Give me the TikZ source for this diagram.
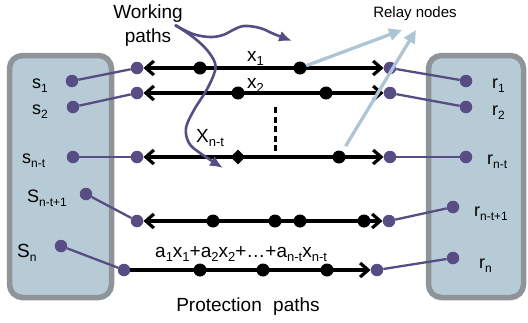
\documentclass[tikz,border=0pt]{standalone}
\usepackage{fontspec}
\setmainfont{Liberation Sans}
\usetikzlibrary{arrows.meta,shapes.geometric}

\definecolor{boxfill}{HTML}{B7CBD7}
\definecolor{boxedge}{HTML}{8E9498}
\definecolor{pathpurple}{HTML}{574D84}
\definecolor{relayblue}{HTML}{ACC6D5}

% lowered small text for indices
\newcommand{\lsub}[2][12]{\raisebox{-4pt}{\fontsize{#1}{#1}\selectfont #2}}

\tikzset{
  panel/.style={draw=boxedge, fill=boxfill, line width=5.5pt, rounded corners=13pt},
  pdot/.style={circle, fill=pathpurple, inner sep=0pt, minimum size=12.5pt},
  bdot/.style={circle, fill=black, inner sep=0pt, minimum size=13pt},
  bdiamond/.style={diamond, fill=black, inner sep=0pt, minimum size=15pt},
  link/.style={draw=pathpurple, line width=2.3pt},
  barb/.tip={Straight Barb[length=8pt,width=14pt]},
  wpath/.style={draw=black, line width=3.2pt, barb-barb},
  ppath/.style={draw=black, line width=3.2pt, -barb},
  relay/.style={draw=relayblue, line width=3.3pt, -{Triangle[length=13pt,width=12pt]}},
  curve/.style={draw=pathpurple, line width=2.6pt, -{Latex[length=13pt,width=11pt]}},
  lbl/.style={inner sep=0pt, font=\fontsize{18}{20}\selectfont},
  big/.style={inner sep=0pt, font=\fontsize{19}{22}\selectfont},
  small/.style={inner sep=0pt, font=\fontsize{15}{17}\selectfont},
}

\begin{document}
\begin{tikzpicture}[x=1pt,y=-1pt]
\useasboundingbox (0,0) rectangle (528,322);

% source and sink panels
\draw[panel] (9.5,55.5) rectangle (111.5,297.5);
\draw[panel] (428.5,55.5) rectangle (523.5,297.5);

% source terminals
\node[pdot] (s1) at (72,81) {};
\node[pdot] (s2) at (73,107) {};
\node[pdot] (s3) at (73,157) {};
\node[pdot] (s4) at (86,194) {};
\node[pdot] (s5) at (61,246) {};

% receiver terminals
\node[pdot] (t1) at (466,81) {};
\node[pdot] (t2) at (466,107) {};
\node[pdot] (t3) at (466,157) {};
\node[pdot] (t4) at (453,207) {};
\node[pdot] (t5) at (453,258) {};

% path end points
\node[pdot] (L1) at (137,68) {};
\node[pdot] (L2) at (137,93) {};
\node[pdot] (L3) at (137,157) {};
\node[pdot] (L4) at (137,221) {};
\node[pdot] (L5) at (124,270) {};
\node[pdot] (R1) at (390,68) {};
\node[pdot] (R2) at (390,93) {};
\node[pdot] (R3) at (390,157) {};
\node[pdot] (R4) at (389,221) {};
\node[pdot] (R5) at (377,270) {};

% relay nodes on the paths
\node[bdot] (a11) at (200,68) {};
\node[bdot] (a12) at (300,68) {};
\node[bdot] (a21) at (238,93) {};
\node[bdot] (a22) at (326,93) {};
\node[bdiamond] (a31) at (238,157) {};
\node[bdot] (a32) at (339,157) {};
\node[bdot] (a41) at (213,221) {};
\node[bdot] (a42) at (275,221) {};
\node[bdot] (a43) at (300,221) {};
\node[bdot] (a44) at (364,221) {};
\node[bdot] (a51) at (200,270) {};
\node[bdot] (a52) at (263,270) {};
\node[bdot] (a53) at (327,270) {};

% terminals to path ends
\draw[link] (s1) -- (L1);
\draw[link] (s2) -- (L2);
\draw[link] (s3) -- (L3);
\draw[link] (s4) -- (L4);
\draw[link] (s5) -- (L5);
\draw[link] (R1) -- (t1);
\draw[link] (R2) -- (t2);
\draw[link] (R3) -- (t3);
\draw[link] (R4) -- (t4);
\draw[link] (R5) -- (t5);

% working and protection paths
\draw[wpath] (L1) -- (R1);
\draw[wpath] (L2) -- (R2);
\draw[wpath] (L3) -- (R3);
\draw[wpath] (L4) -- (R4);
\draw[ppath] (L5) -- (R5);

% dots between the working paths
\coordinate (dtop) at (275,107);
\coordinate (dfoot) at (275,157);
\draw[black, line width=3pt, dash pattern=on 6pt off 3.5pt] (dtop) -- (dfoot);

% relay-node pointers
\coordinate (rtip1) at (402,30);
\coordinate (rtip2) at (416,30);
\draw[relay] (a12) -- (rtip1);
\draw[relay, shorten <=6pt] (a32) -- (rtip2);

% working-path pointers
\coordinate (wstart) at (175,25);
\draw[curve] plot[smooth, tension=0.6] coordinates {(wstart) (193,34) (210,37) (223,35) (233,30) (244,26) (260,28) (274,34) (292,41)};
\draw[curve] plot[smooth, tension=0.6] coordinates {(wstart) (193,37) (207,50) (215,63) (214,74) (206,91) (194,110) (186,128) (189,143) (200,153) (223,168)};

% labels
\node[big, anchor=base] (lw) at (148,18) {Working};
\node[big, anchor=base] (lp) at (148,42) {paths};
\node[small, anchor=base] (lr) at (415,17) {Relay nodes};

\node[lbl, anchor=base west] (ls1) at (32,88) {s\lsub{1}};
\node[lbl, anchor=base west] (ls2) at (32,114) {s\lsub{2}};
\node[lbl, anchor=base west] (ls3) at (22,163) {s\lsub{n-t}};
\node[lbl, anchor=base west] (ls4) at (27,202) {S\lsub{n-t+1}};
\node[big, anchor=base west] (ls5) at (17,257) {S\lsub{n}};

\node[lbl, anchor=base west] (lr1) at (492,88) {r\lsub{1}};
\node[lbl, anchor=base west] (lr2) at (492,115) {r\lsub{2}};
\node[lbl, anchor=base west] (lr3) at (487,164) {r\lsub{n-t}};
\node[lbl, anchor=base west] (lr4) at (474,216) {r\lsub{n-t+1}};
\node[lbl, anchor=base west] (lr5) at (479,268) {r\lsub{n}};

\node[big, anchor=base west] (lx1) at (247,61) {x\lsub[13]{1}};
\node[big, anchor=base west] (lx2) at (247,88) {x\lsub[13]{2}};
\node[big, anchor=base west] (lx3) at (196,142) {X\lsub[13]{n-t}};

\node[big, anchor=base west] (lsum) at (155,257)
  {a\lsub[13]{1}x\lsub[13]{1}+a\lsub[13]{2}x\lsub[13]{2}+…+a\lsub[13]{n-t}x\lsub[13]{n-t}};
\node[big, anchor=base] (lprot) at (248,311) {Protection\hspace{0.6em}paths};
\end{tikzpicture}
\end{document}
